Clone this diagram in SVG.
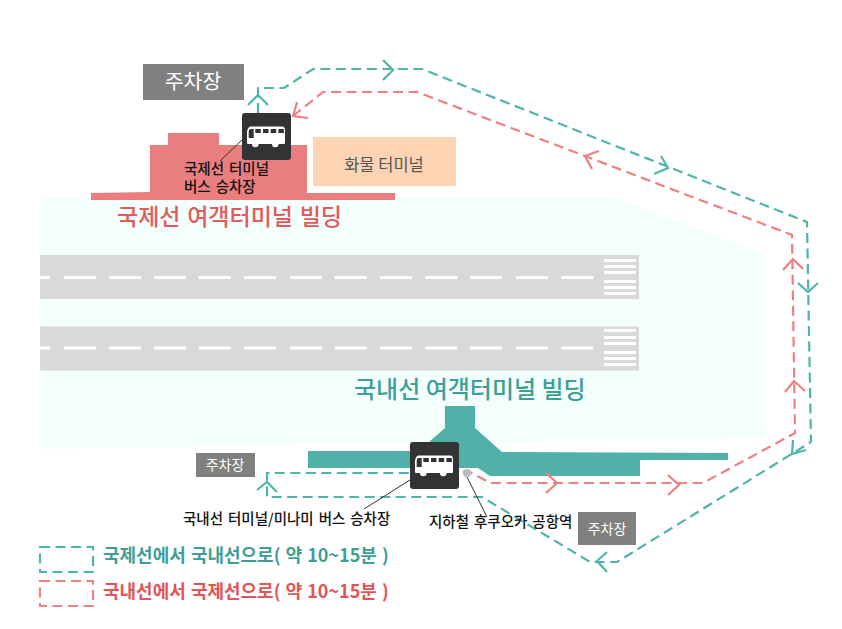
<svg xmlns="http://www.w3.org/2000/svg" width="842" height="629" viewBox="0 0 842 629">
<style>
text{font-family:"Noto Sans CJK KR","Noto Sans",sans-serif}
.t{fill:none;stroke:#4fb5aa;stroke-width:2.200;stroke-dasharray:10 5.500}
.r{fill:none;stroke:#ee8080;stroke-width:2.200;stroke-dasharray:10 5.500}
.ta{fill:none;stroke:#4fb5aa;stroke-width:2.200}
.ra{fill:none;stroke:#ee8080;stroke-width:2.200}
.p{fill:#808080}
.pt{fill:#fff;text-anchor:middle}
.l{fill:#111;font-size:14.500px;font-weight:500;word-spacing:1.700px}
.lead{stroke:#333;stroke-width:1;fill:none}
</style>
<defs>
<g id="bus">
<rect width="49" height="47" rx="3" fill="#333335"/>
<path d="M8,13.500H40Q43,13.500 43,17V30Q43,31 42,31H6Q5,31 5,30V20Q5,15 8,13.500Z" fill="#fff"/>
<path d="M8,16H11.700V25H6.700V19Q6.700,17 8,16Z" fill="#333335"/>
<rect x="13.300" y="16" width="5.500" height="4" fill="#333335"/><rect x="21" y="16" width="5.500" height="4" fill="#333335"/><rect x="28.700" y="16" width="5.500" height="4" fill="#333335"/><rect x="36.400" y="16" width="5.500" height="4" fill="#333335"/>
<circle cx="13.300" cy="31" r="3.300" fill="#fff"/><circle cx="33.300" cy="31" r="3.300" fill="#fff"/>
</g>
</defs>
<rect width="842" height="629" fill="#fff"/>
<polygon id="apron" points="41,198 617,198 765,255 765,438 41,449" fill="#f3fffd"/>
<g id="runways">
<rect x="40" y="255" width="599" height="44" fill="#d9d9d9"/>
<rect x="40" y="326.500" width="599" height="44" fill="#d9d9d9"/>
<path d="M40,277.500H50M64,277.500H96M109,277.500H141M154,277.500H186M199,277.500H231M244,277.500H276M290,277.500H322M335,277.500H367M380,277.500H412M425,277.500H457M470,277.500H502M516,277.500H548M561,277.500H593M40,348H50M64,348H96M109,348H141M154,348H186M199,348H231M244,348H276M290,348H322M335,348H367M380,348H412M425,348H457M470,348H502M516,348H548M561,348H593" stroke="#fff" stroke-width="3" fill="none"/>
<path d="M604,260.500H636M604,266.500H636M604,272.500H636M604,281.500H636M604,287.500H636M604,293.500H636M604,330.500H636M604,337.500H636M604,343.500H636M604,352.500H636M604,358.500H636M604,364.500H636" stroke="#fff" stroke-width="3" fill="none"/>
</g>
<g id="intl-building">
<polygon points="91,193 150,192 150,145 168,145 168,133 219,133 219,145 307,145 307,193 395,193 395,200 91,200" fill="#e97e7e"/>
<text x="117" y="225" font-size="23" font-weight="500" word-spacing="1.500" fill="#e25a5a">국제선 여객터미널 빌딩</text>
</g>
<g id="cargo">
<rect x="313" y="137" width="143" height="49" fill="#fcd4b3"/>
<text x="384" y="171" font-size="16.500" fill="#555" text-anchor="middle">화물 터미널</text>
</g>
<g id="parking-intl">
<rect class="p" x="143" y="64" width="101" height="36"/>
<text class="pt" x="193" y="89" font-size="20.500">주차장</text>
</g>
<g id="domestic-building">
<polygon points="445,406 475,406 475,428 502,452 728,453 728,460 640,460 640,476 490,476 478,468 308,468 308,451 430,451 430,441 445,428" fill="#4fb1a8"/>
<text x="354" y="398" font-size="24" font-weight="500" fill="#3f9f96">국내선 여객터미널 빌딩</text>
</g>
<g id="parking-domestic">
<rect class="p" x="196" y="453" width="59" height="24"/>
<text class="pt" x="225" y="470" font-size="14">주차장</text>
</g>
<g id="parking-south">
<rect class="p" x="578" y="512" width="58" height="33"/>
<text class="pt" x="607" y="534" font-size="14">주차장</text>
</g>
<g id="connectors">
<path class="t" d="M258,113V88H284L313,69H422L807,222L811,442L617,562H590L482,497H267V473H411"/>
<path class="r" d="M293,116L323,92H417L792,235L795,433L703,483H490L470,472H460"/>
<path class="ta" d="M248,105L258,95L268,105M383,60L393,70L383,80M661,156L668,168L654,174M798,283L808,292L818,283M793,440L792,454L806,450M607,552L597,561L607,572M257,490L267,482L277,492"/>
<path class="ra" d="M297,102L293,116L308,118M599,151L585,156L592,169M783,270L793,259L803,269M785,392L794,381L805,391M546,473L557,483L546,493M668,475L679,485L668,495"/>
<path class="lead" d="M242,140L220,161M410,480L364,509M467,477L487,517"/>
</g>
<g id="bus-intl">
<use href="#bus" x="242" y="113"/>
<text class="l" x="184" y="174">국제선 터미널<tspan x="184" dy="18">버스 승차장</tspan></text>
</g>
<g id="bus-domestic">
<use href="#bus" x="410" y="442"/>
<text class="l" x="183" y="524">국내선 터미널/미나미 버스 승차장</text>
</g>
<g id="subway">
<circle cx="467" cy="473" r="4" fill="#bbb"/>
<text class="l" x="429" y="527">지하철 후쿠오카 공항역</text>
</g>
<g id="legend">
<rect class="t" x="40" y="547" width="53" height="25"/>
<text x="103" y="562" font-size="18" font-weight="700" word-spacing="1" fill="#3f9f96">국제선에서 국내선으로( 약 10~15분 )</text>
<rect class="r" x="40" y="581" width="53" height="25"/>
<text x="103" y="598" font-size="18" font-weight="700" word-spacing="1" fill="#e05555">국내선에서 국제선으로( 약 10~15분 )</text>
</g>
</svg>
